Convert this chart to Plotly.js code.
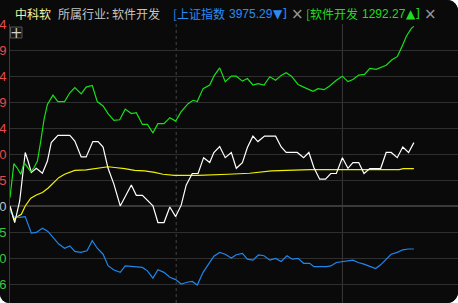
<!DOCTYPE html>
<html><head><meta charset="utf-8">
<script src="https://cdn.plot.ly/plotly-3.0.1.min.js"></script>
<style>
html,body{margin:0;padding:0;background:#ffffff;}
#wrap{position:absolute;left:0;top:0;width:458px;height:303px;overflow:hidden;border-radius:0 11px 11px 9px;background:#0a0a0a;}
#chart{width:458px;height:303px;}
</style></head><body><div id="wrap"><div id="chart"></div></div>
<script>
// minutes since open
const greenX = [0,1.4,2.5,3.9,5.1,6.2,7.5,8.7,9.9,11.1,12.3,13.5,15.5,17.3,19.7,21.6,23.4,25.7,27.5,29.7,31.5,33.6,35.4,37.5,39.6,41.6,43.8,45.6,47.8,49.6,51.6,53.4,55.6,57.7,59.8,61.8,64.3,66.1,67.6,69.7,72.1,73.6,75.7,77.7,79.9,81.7,83.9,85.7,87.7,89.5,91.7,93.8,95.9,97.9,99.7,101.6,104,106.4,108.2,109.4,111.2,113.4,115.4,117.8,120,122,123.8,125.9,128,129.9,132.2,134,135.8,137.9,139.8,141.3,143.1,144.9,145.8];
const greenY = [0.33,1.64,1.49,1.23,1.68,1.51,1.33,1.49,1.74,2.51,3.35,3.92,4.28,4.03,4.03,4.37,4.57,4.33,4.59,4.65,4.03,3.86,3.57,3.31,3.33,3.74,3.57,3.60,3.15,3.15,2.83,3.18,3.18,3.41,3.28,3.64,3.95,4.08,4.03,4.53,4.67,5.01,5.33,4.80,5.01,5.01,4.82,4.92,4.67,4.72,4.67,4.99,4.85,5.04,5.14,5.01,4.69,4.57,4.49,4.43,4.53,4.49,4.63,4.85,5.01,4.80,4.88,5.05,5.08,5.31,5.27,5.36,5.43,5.64,5.76,6.10,6.55,6.85,6.93];

const whiteX = [0,1.7,3.5,4.7,5.5,6.5,7.7,9.5,11.7,13.5,14.9,17.3,21.6,23.4,25.7,27.5,29.9,31.8,33.6,35.4,37.5,39.8,43.8,45.6,47.8,51.6,53.4,55.6,57.7,59.8,61.8,63.6,65.8,67.9,69.9,72.1,73.6,75.7,77.7,79.9,81.7,83.9,85.7,87.7,89.5,91.9,95.9,97.9,99.7,103.7,106,107.9,109.7,111.8,113.9,115.8,117.8,120,122,123.8,125.9,127.8,129.9,133.8,135.8,137.6,139.8,141.8,143.9,145.8];
const whiteY = [0.01,-0.63,0.20,1.49,2.07,1.74,1.30,1.46,1.27,1.74,2.45,2.73,2.73,2.51,1.90,1.90,2.49,2.49,2.28,1.46,0.85,0.01,0.82,0.42,0.42,0.01,-0.63,-0.63,-0.03,-0.40,0.04,0.81,1.26,1.26,1.87,1.68,2.07,2.30,1.87,2.07,1.46,1.68,2.26,2.70,2.49,2.70,2.70,2.28,2.07,2.07,1.87,2.07,1.49,1.04,1.04,1.26,1.26,1.87,1.46,1.68,1.68,1.26,1.45,1.45,2.07,2.07,1.87,2.28,2.07,2.45];

const yellowX = [0,1.4,2.6,4.1,5.5,7.5,9.5,11.7,13.7,15.5,17.6,19.7,21.6,23.4,27.5,31.8,35.4,37.8,41.4,45,48.6,52.2,55.2,59.4,67.9,78.7,86.5,94.4,102.8,108.2,115,140.5,142,145.8];
const yellowY = [-0.03,-0.50,-0.41,-0.31,0.01,0.31,0.43,0.53,0.69,0.87,1.10,1.23,1.32,1.38,1.40,1.46,1.52,1.49,1.45,1.38,1.36,1.30,1.23,1.19,1.19,1.23,1.27,1.36,1.40,1.41,1.41,1.41,1.45,1.45];

const blueX = [0,1.4,3.5,5.5,6.5,7.7,9.5,11.7,13.7,15.5,17.6,19.7,21.6,23.4,25.5,27.8,29.7,31.5,33.6,35.4,37.5,39.8,41.6,43.8,47.8,49.6,51.6,53.4,55.6,57.7,59.8,61.8,63.9,65.8,67.6,69.7,71.8,73.6,75.7,77.7,79.9,81.7,83.9,85.7,87.7,89.7,91.7,93.8,95.9,97.9,100,101.9,104,106,108.2,109.7,114.2,115.8,117.8,120.8,123.8,125.7,127.8,129.9,132,133.8,135.8,137.6,139.8,141.8,143.7,145.8];
const blueY = [-0.18,-0.41,-0.43,-0.40,-0.69,-1.04,-1.01,-0.85,-0.97,-1.20,-1.46,-1.62,-1.53,-1.74,-1.78,-1.72,-1.33,-1.62,-1.85,-2.29,-2.46,-2.55,-2.30,-2.32,-2.36,-2.49,-2.77,-2.45,-2.55,-2.74,-2.83,-3.00,-2.93,-2.90,-3.04,-2.55,-2.19,-1.93,-1.78,-1.85,-2.00,-1.87,-1.82,-2.04,-2.08,-1.88,-1.91,-2.08,-2.01,-2.13,-1.91,-2.04,-2.01,-2.20,-2.20,-2.33,-2.33,-2.30,-2.17,-2.13,-2.08,-2.17,-2.23,-2.32,-2.40,-2.26,-2.04,-1.85,-1.78,-1.68,-1.65,-1.65];

const tickVals = [7,6,5,4,3,2,1,0,-1,-2,-3];
const tickLabels = ['4','9','4','9','4','0','5','0','5','0','6'];

const stockName = '中科软';
const industryText = '所属行业: 软件开发';
const indexName = '[上证指数';
const indexValue = '3975.29';
const indexMark = '▼]';
const sectorName = '[软件开发';
const sectorValue = '1292.27';
const sectorMark = '▲]';

const plotL = 10, plotT = 24, W = 458, H = 303;
const pw = W - plotL, ph = H - plotT;
const px = v => (v - plotL) / pw;
const py = v => (H - v) / ph;

const tickText = tickLabels.map((t, i) => {
  const v = tickVals[i];
  const c = v > 0 ? '#e84a4a' : (v < 0 ? '#3cc83c' : '#b8c4d0');
  return '<span style="color:' + c + '">' + t + '</span>';
});

const line = (x, y, color) => ({x: x, y: y, type: 'scatter', mode: 'lines',
  line: {color: color, width: 1.2, shape: 'linear'}, hoverinfo: 'skip', showlegend: false});

const data = [
  line(yellowX, yellowY, '#f2f200'),
  line(blueX, blueY, '#1f86ee'),
  line(whiteX, whiteY, '#ffffff'),
  line(greenX, greenY, '#18e018')
];

const hf = 'Noto Sans CJK SC, sans-serif';
const nf = 'Liberation Sans, Arial, sans-serif';
const ann = (x, text, color, fam, size) => ({xref: 'paper', yref: 'paper', x: px(x), y: py(13.5),
  xanchor: 'left', yanchor: 'middle', text: text, showarrow: false, borderpad: 0,
  font: {family: fam || hf, size: size || 12, color: color}});

const layout = {
  width: W, height: H,
  margin: {l: plotL, r: 0, t: plotT, b: 0, pad: 0},
  paper_bgcolor: '#0a0a0a', plot_bgcolor: '#0a0a0a',
  showlegend: false,
  xaxis: {range: [0, pw / 2.77], showgrid: false, zeroline: false, showticklabels: false,
    ticks: '', showline: false, fixedrange: true},
  yaxis: {range: [-3.73, 7.02], tickvals: tickVals, ticktext: tickText,
    showgrid: true, gridcolor: '#2f2f2f', gridwidth: 1,
    zeroline: true, zerolinecolor: '#3a3a3a', zerolinewidth: 2.5,
    showline: true, linecolor: '#3c3c3c', linewidth: 1,
    ticks: '', ticklabelstandoff: 0,
    tickfont: {family: nf, size: 13, color: '#e84a4a'},
    fixedrange: true},
  shapes: [
    {type: 'line', xref: 'x', yref: 'paper', x0: 60, x1: 60, y0: 0, y1: 1, layer: 'below',
      line: {color: '#444444', width: 1, dash: 'dot'}},
    {type: 'line', xref: 'x', yref: 'paper', x0: 120, x1: 120, y0: 0, y1: 1, layer: 'below',
      line: {color: '#3a3a3a', width: 1}},
    {type: 'rect', xref: 'paper', yref: 'paper', x0: px(10.5), x1: px(22), y0: py(38), y1: py(27),
      line: {color: '#555555', width: 1}, fillcolor: '#161616', layer: 'above'}
  ],
  annotations: [
    ann(14, stockName, '#f4f0a0'),
    ann(56.5, industryText, '#c4c4c4'),
    ann(171.5, indexName, '#2b8cf2'),
    ann(227.5, indexValue, '#2b8cf2', nf),
    ann(272, indexMark, '#2b8cf2', 'DejaVu Sans, sans-serif', 12),
    ann(289.5, '×', '#9a9a9a', 'DejaVu Sans, sans-serif', 15),
    ann(304.5, sectorName, '#22dc22'),
    ann(360.5, sectorValue, '#22dc22', nf),
    ann(405, sectorMark, '#22dc22', 'DejaVu Sans, sans-serif', 12),
    ann(422.5, '×', '#9a9a9a', 'DejaVu Sans, sans-serif', 15),
    {xref: 'paper', yref: 'paper', x: px(16.3), y: py(32.5), xanchor: 'center', yanchor: 'middle',
      text: '+', showarrow: false, font: {family: 'DejaVu Sans, sans-serif', size: 15, color: '#d0d0d0'}}
  ]
};

Plotly.newPlot('chart', data, layout, {displayModeBar: false, staticPlot: true});
</script>
</body></html>
